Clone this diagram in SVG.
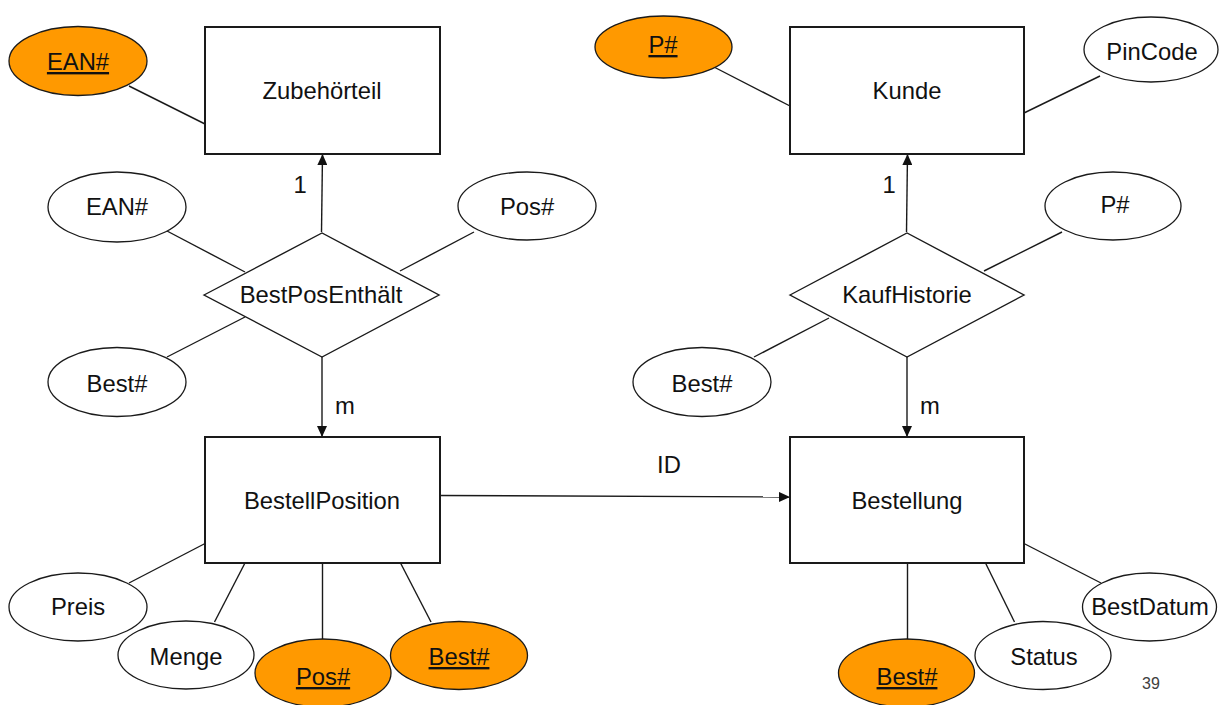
<svg xmlns="http://www.w3.org/2000/svg" width="1219" height="705" viewBox="0 0 1219 705">
  <style>
    text { font-family: "Liberation Sans", Arial, sans-serif; font-size: 23.8px; fill: #111; text-anchor: middle; }
    .entity { fill: #fff; stroke: #1a1a1a; stroke-width: 2; }
    .rel { fill: #fff; stroke: #1a1a1a; stroke-width: 1.4; }
    .attr { fill: #fff; stroke: #1a1a1a; stroke-width: 1.3; }
    .key { fill: #ff9900; stroke: #1a1a1a; stroke-width: 1.3; }
    .key-text { text-decoration: underline; }
    .link { stroke: #1a1a1a; stroke-width: 1.4; fill: none; }
    .arrow { stroke: #1a1a1a; stroke-width: 1.4; fill: none; marker-end: url(#head); }
    .page { font-size: 16px; fill: #404040; }
  </style>
  <defs>
    <marker id="head" markerUnits="userSpaceOnUse" markerWidth="11" markerHeight="10" refX="11" refY="5" orient="auto">
      <path d="M0,0 L11,5 L0,10 z" fill="#111"/>
    </marker>
  </defs>

  <rect width="1219" height="705" fill="#fff"/>

  <!-- connectors -->
  <g id="connectors">
    <line class="link" x1="129" y1="86" x2="205" y2="124"/>
    <line class="link" x1="712" y1="66" x2="790" y2="106"/>
    <line class="link" x1="1100" y1="76" x2="1024" y2="113"/>
    <line class="arrow" x1="321.5" y1="232" x2="322.5" y2="154"/>
    <line class="arrow" x1="906.5" y1="232" x2="907.5" y2="154"/>
    <line class="link" x1="167" y1="231" x2="245" y2="272"/>
    <line class="link" x1="474" y1="232" x2="400" y2="271"/>
    <line class="link" x1="167" y1="357" x2="245" y2="317"/>
    <line class="link" x1="1062" y1="232" x2="984" y2="271"/>
    <line class="link" x1="754" y1="357" x2="829" y2="318"/>
    <line class="arrow" x1="322" y1="357" x2="322" y2="437"/>
    <line class="arrow" x1="907" y1="357" x2="907" y2="437"/>
    <line class="arrow" x1="440" y1="495.5" x2="790" y2="497"/>
    <line class="link" x1="206" y1="543" x2="129" y2="583"/>
    <line class="link" x1="245.5" y1="562" x2="214.5" y2="622"/>
    <line class="link" x1="322.5" y1="563" x2="322.5" y2="640"/>
    <line class="link" x1="400" y1="562" x2="431" y2="622"/>
    <line class="link" x1="907.5" y1="563" x2="907.5" y2="640"/>
    <line class="link" x1="985" y1="562" x2="1014.5" y2="622"/>
    <line class="link" x1="1023" y1="543" x2="1101" y2="583"/>
  </g>

  <!-- cardinality and role labels -->
  <g id="labels">
    <text x="300" y="193">1</text>
    <text x="889" y="193">1</text>
    <text x="345" y="414">m</text>
    <text x="930" y="414">m</text>
    <text x="669" y="473">ID</text>
  </g>

  <!-- entities -->
  <g id="zubehoerteil">
    <rect class="entity" x="205" y="27" width="235" height="127"/>
    <text x="322" y="99">Zubehörteil</text>
  </g>
  <g id="kunde">
    <rect class="entity" x="790" y="27" width="234" height="127"/>
    <text x="907" y="99">Kunde</text>
  </g>
  <g id="bestellposition">
    <rect class="entity" x="205" y="437" width="235" height="126"/>
    <text x="322" y="509">BestellPosition</text>
  </g>
  <g id="bestellung">
    <rect class="entity" x="790" y="437" width="234" height="126"/>
    <text x="907" y="509">Bestellung</text>
  </g>

  <!-- relationships -->
  <g id="bestposenthaelt">
    <polygon class="rel" points="204,295 322,233 439,295 322,357"/>
    <text x="321" y="303">BestPosEnthält</text>
  </g>
  <g id="kaufhistorie">
    <polygon class="rel" points="790,295 907,233 1024,295 907,357"/>
    <text x="907" y="303">KaufHistorie</text>
  </g>

  <!-- attributes of Zubehörteil -->
  <g id="zubehoerteil-ean">
    <ellipse class="key" cx="78" cy="61" rx="69" ry="34.5"/>
    <text class="key-text" x="78" y="70">EAN#</text>
  </g>

  <!-- attributes of Kunde -->
  <g id="kunde-p">
    <ellipse class="key" cx="663.5" cy="47" rx="68.5" ry="31"/>
    <text class="key-text" x="663" y="53">P#</text>
  </g>
  <g id="kunde-pincode">
    <ellipse class="attr" cx="1151" cy="49.5" rx="67" ry="32.5"/>
    <text x="1152" y="60">PinCode</text>
  </g>

  <!-- attributes of BestPosEnthält -->
  <g id="bpe-ean">
    <ellipse class="attr" cx="117" cy="207" rx="69" ry="35"/>
    <text x="117" y="215">EAN#</text>
  </g>
  <g id="bpe-pos">
    <ellipse class="attr" cx="527" cy="206" rx="69" ry="34"/>
    <text x="527" y="215">Pos#</text>
  </g>
  <g id="bpe-best">
    <ellipse class="attr" cx="117" cy="382" rx="69" ry="34.5"/>
    <text x="117" y="392">Best#</text>
  </g>

  <!-- attributes of KaufHistorie -->
  <g id="kh-p">
    <ellipse class="attr" cx="1113" cy="206" rx="68" ry="34"/>
    <text x="1115" y="213">P#</text>
  </g>
  <g id="kh-best">
    <ellipse class="attr" cx="702" cy="382" rx="69" ry="34.5"/>
    <text x="702" y="392">Best#</text>
  </g>

  <!-- attributes of BestellPosition -->
  <g id="bp-preis">
    <ellipse class="attr" cx="78" cy="607" rx="69" ry="34"/>
    <text x="78" y="615">Preis</text>
  </g>
  <g id="bp-menge">
    <ellipse class="attr" cx="186" cy="655" rx="68" ry="34"/>
    <text x="186" y="665">Menge</text>
  </g>
  <g id="bp-pos">
    <ellipse class="key" cx="323" cy="673" rx="68" ry="34"/>
    <text class="key-text" x="323" y="685">Pos#</text>
  </g>
  <g id="bp-best">
    <ellipse class="key" cx="459" cy="655.5" rx="68.5" ry="34"/>
    <text class="key-text" x="459" y="665">Best#</text>
  </g>

  <!-- attributes of Bestellung -->
  <g id="b-best">
    <ellipse class="key" cx="906.5" cy="673" rx="68" ry="34"/>
    <text class="key-text" x="907" y="685">Best#</text>
  </g>
  <g id="b-status">
    <ellipse class="attr" cx="1043" cy="655.5" rx="68" ry="34"/>
    <text x="1044" y="665">Status</text>
  </g>
  <g id="b-bestdatum">
    <ellipse class="attr" cx="1149.5" cy="607" rx="67" ry="34"/>
    <text x="1150" y="615">BestDatum</text>
  </g>

  <text class="page" x="1151" y="689">39</text>
</svg>
